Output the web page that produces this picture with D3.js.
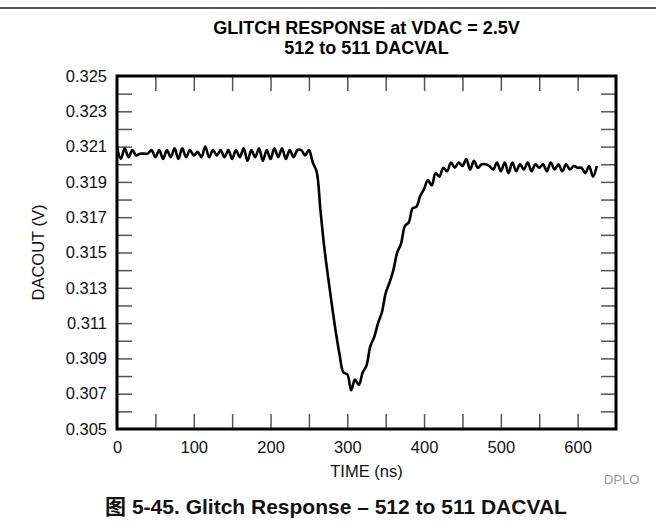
<!DOCTYPE html>
<html>
<head>
<meta charset="utf-8">
<script src="https://cdn.jsdelivr.net/npm/d3@7"></script>
<style>
  html, body { margin: 0; padding: 0; background: #fff; }
  svg { display: block; font-family: Arial, "Liberation Sans", "Noto Sans CJK SC", sans-serif; }
</style>
</head>
<body>
<svg id="chart" width="656" height="527"></svg>
<script>
// Sample times (ns), one point every 5 ns
const timeNs = [
  0,5,10,15,20,25,30,35,40,45,50,55,60,65,70,75,80,85,90,95,
  100,105,110,115,120,125,130,135,140,145,150,155,160,165,170,175,180,185,190,195,
  200,205,210,215,220,225,230,235,240,245,250,255,260,265,270,275,280,285,290,295,
  300,305,310,315,320,325,330,335,340,345,350,355,360,365,370,375,380,385,390,395,
  400,405,410,415,420,425,430,435,440,445,450,455,460,465,470,475,480,485,490,495,
  500,505,510,515,520,525,530,535,540,545,550,555,560,565,570,575,580,585,590,595,
  600,605,610,615,620,625
];

// DAC output (V) at each sample time
const dacoutV = [
  0.3210,0.3203,0.3209,0.3204,0.3208,0.3205,0.3206,0.3206,0.3206,0.3208,
  0.3204,0.3208,0.3203,0.3208,0.3204,0.3209,0.3203,0.3209,0.3204,0.3208,
  0.3205,0.3207,0.3204,0.3210,0.3204,0.3208,0.3205,0.3208,0.3204,0.3208,
  0.3203,0.3208,0.3204,0.3209,0.3202,0.3208,0.3204,0.3209,0.3202,0.3208,
  0.3203,0.3209,0.3204,0.3209,0.3203,0.3208,0.3204,0.3208,0.3208,0.3205,
  0.3208,0.3201,0.3196,0.3174,0.3153,0.3136,0.3120,0.3105,0.3092,0.3082,
  0.3081,0.3072,0.3078,0.3075,0.3082,0.3086,0.3097,0.3102,0.3110,0.3116,
  0.3127,0.3133,0.3140,0.3150,0.3155,0.3165,0.3167,0.3175,0.3176,0.3182,
  0.3186,0.3191,0.3188,0.3195,0.3193,0.3198,0.3196,0.3201,0.3198,0.3201,
  0.3199,0.3203,0.3197,0.3202,0.3198,0.3200,0.3200,0.3199,0.3197,0.3201,
  0.3196,0.3201,0.3195,0.3201,0.3196,0.3200,0.3197,0.3201,0.3196,0.3200,
  0.3198,0.3200,0.3196,0.3201,0.3197,0.3200,0.3196,0.3200,0.3197,0.3199,
  0.3198,0.3198,0.3195,0.3199,0.3193,0.3199
];

// Axis ticks and labels
const xTickValues = [50,100,150,200,250,300,350,400,450,500,550,600];
const xLabelValues = [0,100,200,300,400,500,600];
const yTickValues = [0.306,0.307,0.308,0.309,0.310,0.311,0.312,0.313,0.314,0.315,0.316,0.317,0.318,0.319,0.320,0.321,0.322,0.323,0.324];
const yLabelValues = [0.305,0.307,0.309,0.311,0.313,0.315,0.317,0.319,0.321,0.323,0.325];

const titleLines = ["GLITCH RESPONSE at VDAC = 2.5V", "512 to 511 DACVAL"];
const xTitle = "TIME (ns)";
const yTitle = "DACOUT (V)";
const caption = "图 5-45. Glitch Response – 512 to 511 DACVAL";
const sourceTag = "DPLO";

const W = 656, H = 527;
const plot = { left: 117, right: 616, top: 76, bottom: 429 };

const svg = d3.select("#chart");

const x = d3.scaleLinear().domain([0, 650]).range([plot.left, plot.right]);
const y = d3.scaleLinear().domain([0.305, 0.325]).range([plot.bottom, plot.top]);

// rule across the top of the figure
svg.append("line")
  .attr("x1", 0).attr("x2", W).attr("y1", 8).attr("y2", 8)
  .attr("stroke", "#222").attr("stroke-width", 1.5);

// title
const cx = (plot.left + plot.right) / 2;
svg.append("text").attr("x", cx).attr("y", 34)
  .attr("text-anchor", "middle").attr("font-weight", "bold").attr("font-size", 18)
  .text(titleLines[0]);
svg.append("text").attr("x", cx).attr("y", 54)
  .attr("text-anchor", "middle").attr("font-weight", "bold").attr("font-size", 18)
  .text(titleLines[1]);

const TICK = 15;
const tickColor = "#555";

// inward ticks on all four sides
const axes = svg.append("g");
axes.append("g").attr("transform", `translate(${plot.left},0)`)
  .call(d3.axisRight(y).tickValues(yTickValues).tickSize(TICK).tickFormat(""))
  .call(g => g.select(".domain").remove());
axes.append("g").attr("transform", `translate(${plot.right},0)`)
  .call(d3.axisLeft(y).tickValues(yTickValues).tickSize(TICK).tickFormat(""))
  .call(g => g.select(".domain").remove());
axes.append("g").attr("transform", `translate(0,${plot.top})`)
  .call(d3.axisBottom(x).tickValues(xTickValues).tickSize(TICK).tickFormat(""))
  .call(g => g.select(".domain").remove());
axes.append("g").attr("transform", `translate(0,${plot.bottom})`)
  .call(d3.axisTop(x).tickValues(xTickValues).tickSize(TICK).tickFormat(""))
  .call(g => g.select(".domain").remove());
axes.selectAll(".tick line").attr("stroke", tickColor).attr("stroke-width", 1.5);

// tick labels
const labelFont = "Arial, 'Liberation Sans', sans-serif";
const yLab = svg.append("g").attr("transform", `translate(${plot.left},0)`)
  .call(d3.axisLeft(y).tickValues(yLabelValues).tickSize(0).tickPadding(10).tickFormat(d3.format(".3f")));
yLab.select(".domain").remove();
yLab.selectAll("text").attr("font-size", 16.5).attr("fill", "#111").attr("font-family", labelFont);

const xLab = svg.append("g").attr("transform", `translate(0,${plot.bottom})`)
  .call(d3.axisBottom(x).tickValues(xLabelValues).tickSize(0).tickPadding(12).tickFormat(d3.format("d")));
xLab.select(".domain").remove();
xLab.selectAll("text").attr("font-size", 16.5).attr("fill", "#111").attr("font-family", labelFont);

// axis titles
svg.append("text").attr("x", cx).attr("y", 477)
  .attr("text-anchor", "middle").attr("font-size", 16.5).attr("fill", "#111").text(xTitle);
svg.append("text")
  .attr("transform", `translate(44,${(plot.top + plot.bottom) / 2}) rotate(-90)`)
  .attr("text-anchor", "middle").attr("font-size", 16.5).attr("fill", "#111").text(yTitle);

// measured waveform
const data = timeNs.map((t, i) => ({ t, v: dacoutV[i] }));
const line = d3.line().x(d => x(d.t)).y(d => y(d.v)).curve(d3.curveCatmullRom.alpha(0.5));
svg.append("path").datum(data)
  .attr("d", line).attr("fill", "none")
  .attr("stroke", "#000").attr("stroke-width", 2.6).attr("stroke-linejoin", "round");

// plot frame
svg.append("rect")
  .attr("x", plot.left).attr("y", plot.top)
  .attr("width", plot.right - plot.left).attr("height", plot.bottom - plot.top)
  .attr("fill", "none").attr("stroke", "#000").attr("stroke-width", 3);

// source tag and caption
svg.append("text").attr("x", 604).attr("y", 484)
  .attr("font-size", 13).attr("fill", "#999").text(sourceTag);
svg.append("text").attr("x", 336).attr("y", 514)
  .attr("text-anchor", "middle").attr("font-weight", "bold").attr("font-size", 21).attr("fill", "#111")
  .text(caption);
</script>
</body>
</html>
